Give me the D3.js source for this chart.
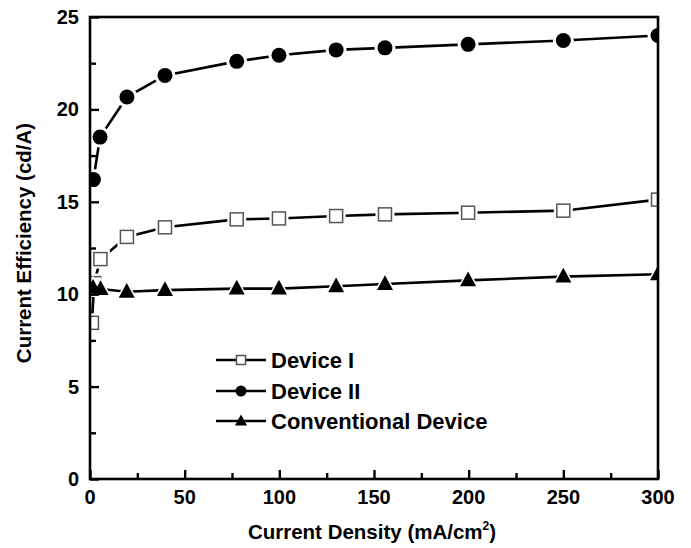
<!DOCTYPE html>
<html>
<head>
<meta charset="utf-8">
<script src="https://cdn.jsdelivr.net/npm/d3@7"></script>
<style>
  body { margin: 0; background: #fff; }
  text { font-family: "Liberation Sans", Arial, sans-serif; font-weight: bold; fill: #000; }
</style>
</head>
<body>
<div id="chart"></div>
<script>
// Data
const seriesNames = ["Device I", "Device II", "Conventional Device"];
const device1X = [1, 2.2, 5.5, 19.5, 39.6, 77.5, 99.8, 130, 155.8, 199.7, 250, 300];
const device1Y = [8.45, 10.6, 11.9, 13.1, 13.62, 14.05, 14.1, 14.23, 14.32, 14.41, 14.52, 15.12];
const device2X = [1.8, 5.3, 19.5, 39.6, 77.5, 99.8, 130, 155.8, 199.7, 250, 300];
const device2Y = [16.2, 18.5, 20.67, 21.84, 22.6, 22.93, 23.22, 23.33, 23.52, 23.73, 24.0];
const convX = [1.6, 5.6, 19.4, 39.6, 77.5, 99.8, 130, 155.8, 199.7, 250, 300];
const convY = [10.35, 10.28, 10.13, 10.22, 10.3, 10.3, 10.43, 10.55, 10.75, 10.95, 11.08];
const xTicks = [0, 50, 100, 150, 200, 250, 300];
const yTicks = [0, 5, 10, 15, 20, 25];

const W = 691, H = 548;
const margin = {left: 90, right: 33, top: 17, bottom: 69};

const svg = d3.select("#chart").append("svg")
    .attr("width", W).attr("height", H);

const x = d3.scaleLinear().domain([0, 300]).range([margin.left, W - margin.right]);
const y = d3.scaleLinear().domain([0, 25]).range([H - margin.bottom, margin.top]);

const series = [
    {name: seriesNames[0], xs: device1X, ys: device1Y, shape: "square"},
    {name: seriesNames[1], xs: device2X, ys: device2Y, shape: "circle"},
    {name: seriesNames[2], xs: convX, ys: convY, shape: "triangle"}
];

svg.append("clipPath").attr("id", "plotClip")
    .append("rect")
    .attr("x", x(0)).attr("y", y(25))
    .attr("width", x(300) - x(0)).attr("height", y(0) - y(25));

const plot = svg.append("g").attr("clip-path", "url(#plotClip)");

const line = d3.line().x(d => x(d[0])).y(d => y(d[1]));

function drawMarker(g, shape, cx, cy, size, halo) {
    const extra = halo ? 3 : 0;
    if (shape === "circle") {
        g.append("circle").attr("cx", cx).attr("cy", cy).attr("r", size / 2 + extra)
            .attr("fill", halo ? "#fff" : "#000");
    } else if (shape === "square") {
        const s = size + extra * 2;
        g.append("rect").attr("x", cx - s / 2).attr("y", cy - s / 2)
            .attr("width", s).attr("height", s)
            .attr("fill", "#fff")
            .attr("stroke", halo ? "none" : "#555")
            .attr("stroke-width", 1.5);
    } else {
        const s = size + extra * 2;
        const h = s * 0.92;
        const pts = [[cx, cy - h * 0.6], [cx - s / 2, cy + h * 0.4], [cx + s / 2, cy + h * 0.4]];
        g.append("path").attr("d", "M" + pts.join("L") + "Z")
            .attr("fill", halo ? "#fff" : "#000");
    }
}

const sizes = {circle: 15, square: 13, triangle: 16};

series.forEach(s => {
    const pts = s.xs.map((v, i) => [v, s.ys[i]]);
    plot.append("path").datum(pts)
        .attr("d", line)
        .attr("fill", "none")
        .attr("stroke", "#000")
        .attr("stroke-width", 2.6);
});
series.forEach(s => {
    const g = plot.append("g");
    s.xs.forEach((v, i) => drawMarker(g, s.shape, x(v), y(s.ys[i]), sizes[s.shape], true));
    s.xs.forEach((v, i) => drawMarker(g, s.shape, x(v), y(s.ys[i]), sizes[s.shape], false));
});

// frame
svg.append("rect")
    .attr("x", x(0)).attr("y", y(25))
    .attr("width", x(300) - x(0)).attr("height", y(0) - y(25))
    .attr("fill", "none").attr("stroke", "#000").attr("stroke-width", 2.6);

// inward ticks
const xAxis = d3.axisBottom(x).tickValues(d3.range(0, 301, 25))
    .tickSize(-7).tickFormat("");
const gx = svg.append("g").attr("transform", `translate(0,${y(0)})`).call(xAxis);
gx.select(".domain").remove();
gx.selectAll(".tick line").attr("stroke-width", 2.4)
    .attr("y2", d => d % 50 === 0 ? -9 : -6);

const yAxis = d3.axisLeft(y).tickValues(d3.range(0, 25.1, 2.5))
    .tickSize(-7).tickFormat("");
const gy = svg.append("g").attr("transform", `translate(${x(0)},0)`).call(yAxis);
gy.select(".domain").remove();
gy.selectAll(".tick line").attr("stroke-width", 2.4)
    .attr("x2", d => d % 5 === 0 ? 9 : 6);

// tick labels
svg.append("g").selectAll("text").data(xTicks).join("text")
    .attr("x", d => x(d)).attr("y", y(0) + 25)
    .attr("text-anchor", "middle").attr("font-size", 20)
    .text(d => d);
svg.append("g").selectAll("text").data(yTicks).join("text")
    .attr("x", x(0) - 11).attr("y", d => y(d) + 7)
    .attr("text-anchor", "end").attr("font-size", 20)
    .text(d => d);

// axis titles
const xt = svg.append("text")
    .attr("x", (x(0) + x(300)) / 2 - 2).attr("y", 539)
    .attr("text-anchor", "middle").attr("font-size", 20.5);
xt.append("tspan").text("Current Density (mA/cm");
xt.append("tspan").attr("font-size", 12).attr("dy", -9).text("2");
xt.append("tspan").attr("dy", 9).text(")");

svg.append("text")
    .attr("transform", "translate(31,243) rotate(-90)")
    .attr("text-anchor", "middle").attr("font-size", 20.5)
    .text("Current Efficiency (cd/A)");

// legend
const legendY = [360, 391, 421];
const legendSizes = {circle: 11, square: 9, triangle: 12};
series.forEach((s, i) => {
    const g = svg.append("g");
    g.append("line").attr("x1", 216).attr("x2", 266)
        .attr("y1", legendY[i]).attr("y2", legendY[i])
        .attr("stroke", "#000").attr("stroke-width", 2.4);
    drawMarker(g, s.shape, 241, legendY[i], legendSizes[s.shape], false);
    g.append("text").attr("x", 271).attr("y", legendY[i] + 8)
        .attr("font-size", 22).text(s.name);
});
</script>
</body>
</html>
